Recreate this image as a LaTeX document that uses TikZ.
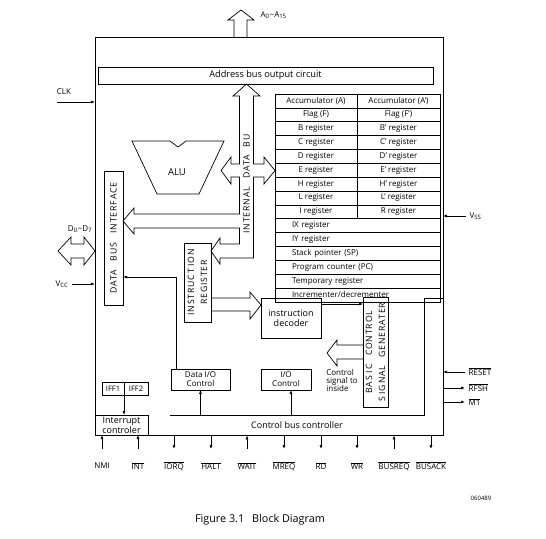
\documentclass[tikz,border=0pt]{standalone}
\usepackage{fontspec}
\setmainfont{Open Sans}
\newfontfamily\spacedfont[LetterSpace=10]{Open Sans}
\usetikzlibrary{arrows.meta,positioning,calc}
\newcommand{\ovl}[1]{$\overline{\mbox{#1}}$}

\begin{document}
\begin{tikzpicture}[x=1pt,y=-1pt,line width=0.7pt,font=\fontsize{8}{9}\selectfont]
  \tikzstyle{block}=[rectangle,draw,inner sep=0pt,outer sep=0pt,align=center]
  \tikzstyle{regl}=[block,minimum width=82pt,minimum height=13.86pt]
  \tikzstyle{regr}=[block,minimum width=83pt,minimum height=13.86pt]
  \tikzstyle{regw}=[block,minimum width=165pt,minimum height=13.86pt,text width=131pt,align=left]
  \tikzstyle{vtext}=[rotate=90,align=center,font=\fontsize{8.7}{13}\spacedfont]
  \tikzstyle{pin}=[font=\fontsize{8}{9}\selectfont]
  \tikzstyle{sig}=[-{Latex[length=4pt,width=3pt]}]
  \useasboundingbox (0,0) rectangle (546,538);

  % chip outline and address side
  \node[block,minimum width=348pt,minimum height=398pt] (chip) at (269,236) {};
  \node[block,minimum width=335pt,minimum height=17pt,font=\fontsize{9.2}{10}\selectfont] (abus) at (265.5,75.5) {Address bus output circuit};
  \draw (234,37) -- (234,20) -- (228,20) -- (241,10) -- (254,20) -- (247,20) -- (247,37);
  \node[pin,anchor=west] (addr) at (257,15) {A\textsubscript{0}\textasciitilde A\textsubscript{15}};

  % register file
  \node[regl] (accA) at (316,100.93) {Accumulator (A)};
  \node[regr,right=0pt of accA] (accA2) {Accumulator (A')};
  \node[regl,below=0pt of accA] (flagF) {Flag (F)};
  \node[regr,right=0pt of flagF] (flagF2) {Flag (F')};
  \node[regl,below=0pt of flagF] (bReg) {B register};
  \node[regr,right=0pt of bReg] (bReg2) {B' register};
  \node[regl,below=0pt of bReg] (cReg) {C register};
  \node[regr,right=0pt of cReg] (cReg2) {C' register};
  \node[regl,below=0pt of cReg] (dReg) {D register};
  \node[regr,right=0pt of dReg] (dReg2) {D' register};
  \node[regl,below=0pt of dReg] (eReg) {E register};
  \node[regr,right=0pt of eReg] (eReg2) {E' register};
  \node[regl,below=0pt of eReg] (hReg) {H register};
  \node[regr,right=0pt of hReg] (hReg2) {H' register};
  \node[regl,below=0pt of hReg] (lReg) {L register};
  \node[regr,right=0pt of lReg] (lReg2) {L' register};
  \node[regl,below=0pt of lReg] (iReg) {I register};
  \node[regr,right=0pt of iReg] (rReg) {R register};
  \node[regw,anchor=north west] (ixReg) at (iReg.south west) {IX register};
  \node[regw,below=0pt of ixReg] (iyReg) {IY register};
  \node[regw,below=0pt of iyReg] (spReg) {Stack pointer (SP)};
  \node[regw,below=0pt of spReg] (pcReg) {Program counter (PC)};
  \node[regw,below=0pt of pcReg] (tmpReg) {Temporary register};
  \node[regw,below=0pt of tmpReg] (incdec) {Incrementer/decrementer};

  % internal data bus
  \draw (246.5,84) -- (260,96) -- (253.5,96) -- (253.5,164) -- (264,164) -- (264,157) -- (275,170.5)
    -- (264,184) -- (264,177) -- (253.5,177) -- (253.5,258) -- (220,258) -- (220,264) -- (211,251)
    -- (220,238) -- (220,244) -- (239.5,244) -- (239.5,228) -- (134,228) -- (134,234) -- (123,221)
    -- (134,208) -- (134,214) -- (239.5,214) -- (239.5,177) -- (231,177) -- (231,184) -- (221,170.5)
    -- (231,157) -- (231,164) -- (239.5,164) -- (239.5,96) -- (233,96) -- cycle;
  \node[vtext] (ibus) at (246.5,184) {INTERNAL\hspace{8pt}DATA\hspace{8pt}BU};

  % ALU
  \draw (132,141) -- (170,141) -- (178,147) -- (186,141) -- (224,141) -- (199,194) -- (157,194) -- cycle;
  \node[font=\fontsize{9.5}{10}\selectfont] (alu) at (177,172) {ALU};

  % data bus interface
  \node[block,minimum width=19pt,minimum height=134pt] (dbi) at (113.5,238) {};
  \node[vtext] at (dbi) {DATA\hspace{9pt}BUS\hspace{9pt}INTERFACE};
  \draw (58,251) -- (71,237) -- (71,244) -- (84,244) -- (84,237) -- (95,251)
    -- (84,265) -- (84,258) -- (71,258) -- (71,265) -- cycle;
  \node[pin] (dlbl) at (80,229) {D\textsubscript{0}\textasciitilde D\textsubscript{7}};
  \node[pin] (vcc) at (62,284) {V\textsubscript{CC}};
  \draw[sig] (vcc.east) -- (vcc.east -| chip.west);
  \node[pin] (clk) at (64,92) {CLK};
  \coordinate (clkin) at (57,102);
  \draw[sig] (clkin) -- (clkin -| chip.west);

  % instruction path
  \node[block,minimum width=27pt,minimum height=79pt] (ir) at (197.5,282.5) {};
  \node[vtext] at (ir) {INSTRUCT\hspace{2pt}ION\\REGISTER};
  \node[block,minimum width=60pt,minimum height=40pt,font=\fontsize{9}{9.5}\selectfont] (dec) at (291,318) {instruction\\decoder};
  \draw (211,298) -- (250,298) -- (250,292) -- (261,305) -- (250,319) -- (250,311) -- (211,311);
  \node[block,minimum width=25pt,minimum height=110pt] (bcsg) at (375.5,352) {};
  \node[vtext] at (bcsg) {BAS\hspace{2pt}I\hspace{2pt}C\hspace{8pt}CONTROL\\S\hspace{2pt}IGNAL\hspace{8pt}GENERATER};
  \draw[sig] ([yshift=14pt]dec.east) -- ([yshift=14pt]dec.east -| bcsg.west);
  \draw (363,345) -- (337,345) -- (337,340) -- (327,353) -- (337,366) -- (337,359) -- (363,359);
  \node[anchor=north west,align=left,inner sep=0pt,font=\fontsize{8}{8.2}\selectfont] (ctrltxt) at (326,369) {Control\\signal to\\inside};

  % control section
  \node[block,minimum width=59pt,minimum height=21pt] (dataio) at (200.5,379.5) {Data I/O\\Control};
  \node[block,minimum width=50pt,minimum height=21pt] (ioc) at (286,379.5) {I/O\\Control};
  \draw[sig] ([xshift=-24.5pt]dataio.north) |- ([yshift=-39pt]dbi.east);
  \draw (170,415) -- (424,415) -- (424,298) -- (443,298);
  \node[minimum height=20pt,inner sep=0pt,font=\fontsize{9}{10}\selectfont] (cbc) at (297,425) {Control bus controller};
  \draw[sig] (dataio.south |- cbc.north) -- (dataio.south);
  \draw[sig] ([xshift=5pt]ioc.south |- cbc.north) -- ([xshift=5pt]ioc.south);
  \node[block,minimum width=53pt,minimum height=20pt,font=\fontsize{9}{7.3}\selectfont] (intc) at (121.5,425) {Interrupt\\controler};
  \node[block,minimum width=22pt,minimum height=13pt,font=\fontsize{7.5}{8}\selectfont] (iff1) at (113,388.5) {IFF1};
  \node[block,minimum width=24pt,minimum height=13pt,font=\fontsize{7.5}{8}\selectfont,right=0pt of iff1] (iff2) {IFF2};
  \draw[sig] (iff1.south east) -- (iff1.south east |- intc.north);

  % right side pins
  \node[pin,anchor=west] (vss) at (466,216) {V\textsubscript{SS}};
  \draw[sig] (vss.west) -- (vss.west -| chip.east);
  \node[pin,anchor=west] (reset) at (465,372) {\ovl{RESET}};
  \draw[sig] (reset.west) -- (reset.west -| chip.east);
  \node[pin,anchor=west] (rfsh) at (465,388) {\ovl{RFSH}};
  \draw[sig] (rfsh.west -| chip.east) -- (rfsh.west);
  \node[pin,anchor=west] (mone) at (465,402) {\ovl{M1}};
  \draw[sig] (mone.west -| chip.east) -- (mone.west);

  % bottom pins
  \node[pin] (nmi) at (102,466) {NMI};
  \node[pin] (int) at (138,466) {\ovl{INT}};
  \node[pin] (iorq) at (174,466) {\ovl{IORQ}};
  \node[pin] (halt) at (211,466) {\ovl{HALT}};
  \node[pin] (wait) at (247,466) {\ovl{WAIT}};
  \node[pin] (mreq) at (284,466) {\ovl{MREQ}};
  \node[pin] (rd) at (321,466) {\ovl{RD}};
  \node[pin] (wr) at (357,466) {\ovl{WR}};
  \node[pin] (busreq) at (394,466) {\ovl{BUSREQ}};
  \node[pin] (busack) at (431,466) {\ovl{BUSACK}};
  \draw[sig] ([yshift=17pt]nmi.center) -- (nmi |- intc.south);
  \draw[sig] ([yshift=17pt]int.center) -- (int |- intc.south);
  \draw[sig] (iorq |- cbc.south) -- ([yshift=17pt]iorq.center);
  \draw[sig] (halt |- cbc.south) -- ([yshift=17pt]halt.center);
  \draw[sig] ([yshift=17pt]wait.center) -- (wait |- cbc.south);
  \draw[sig] (mreq |- cbc.south) -- ([yshift=17pt]mreq.center);
  \draw[sig] (rd |- cbc.south) -- ([yshift=17pt]rd.center);
  \draw[sig] (wr |- cbc.south) -- ([yshift=17pt]wr.center);
  \draw[sig] ([yshift=17pt]busreq.center) -- (busreq |- cbc.south);
  \draw[sig] (busack |- cbc.south) -- ([yshift=17pt]busack.center);

  \node[font=\fontsize{6}{7}\selectfont] (code) at (481,498) {060489};
  \node[font=\fontsize{10.8}{12}\selectfont] (caption) at (260,520) {Figure 3.1\hspace{8pt}Block Diagram};
\end{tikzpicture}
\end{document}
